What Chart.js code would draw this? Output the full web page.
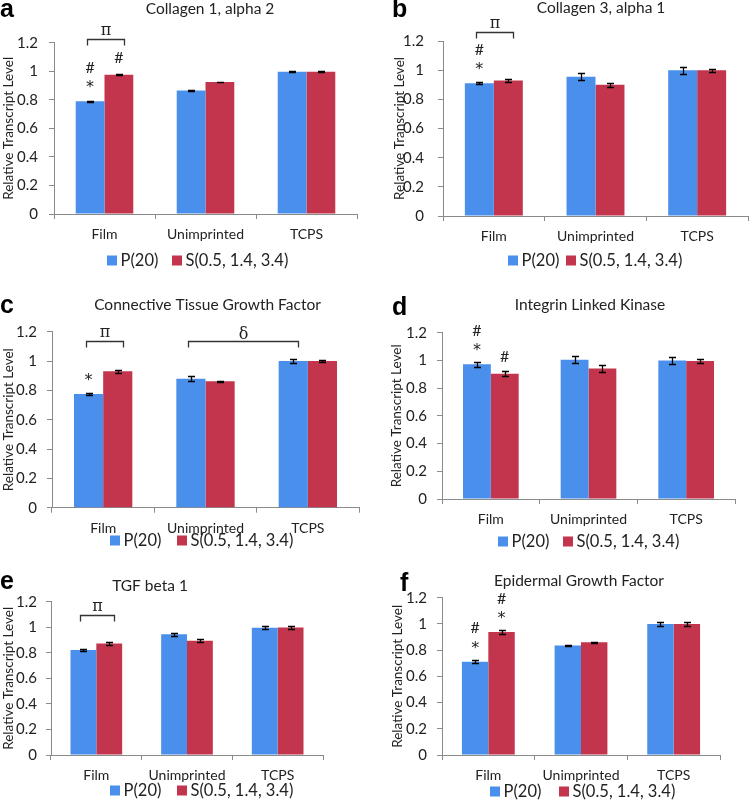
<!DOCTYPE html>
<html><head><meta charset="utf-8">
<script src="https://cdn.jsdelivr.net/npm/chart.js@4.4.1/dist/chart.umd.min.js"></script>
<style>
html,body{margin:0;padding:0;background:#fff;}
#wrap{position:relative;width:750px;height:806px;overflow:hidden;background:#fff}
canvas{position:absolute}
</style></head><body><div id="wrap"></div>
<script>
// ---------- data ----------
const categories = ['Film', 'Unimprinted', 'TCPS'];
const seriesNames = ['P(20)', 'S(0.5, 1.4, 3.4)'];
const yTicks = [0, 0.2, 0.4, 0.6, 0.8, 1, 1.2];
const yTickLabels = ['0', '0.2', '0.4', '0.6', '0.8', '1', '1.2'];
const panelLetters = ['a', 'b', 'c', 'd', 'e', 'f'];
const panelTitles = ['Collagen 1, alpha 2', 'Collagen 3, alpha 1', 'Connective Tissue Growth Factor',
  'Integrin Linked Kinase', 'TGF beta 1', 'Epidermal Growth Factor'];
const yAxisTitle = 'Relative Transcript Level';

const col1P = [0.79, 0.865, 0.997];
const col1S = [0.975, 0.925, 0.997];
const col1PErr = [0.004, 0.003, 0.003];
const col1SErr = [0.004, 0.003, 0.003];

const col3P = [0.91, 0.955, 1.0];
const col3S = [0.93, 0.90, 1.0];
const col3PErr = [0.006, 0.025, 0.025];
const col3SErr = [0.012, 0.015, 0.01];

const ctgfP = [0.775, 0.88, 1.0];
const ctgfS = [0.93, 0.862, 1.0];
const ctgfPErr = [0.007, 0.018, 0.015];
const ctgfSErr = [0.01, 0.004, 0.006];

const ilkP = [0.972, 1.005, 1.0];
const ilkS = [0.904, 0.942, 0.996];
const ilkPErr = [0.02, 0.025, 0.025];
const ilkSErr = [0.02, 0.025, 0.012];

const tgfP = [0.822, 0.945, 0.997];
const tgfS = [0.872, 0.895, 0.998];
const tgfPErr = [0.01, 0.012, 0.012];
const tgfSErr = [0.01, 0.013, 0.012];

const egfP = [0.712, 0.835, 1.0];
const egfS = [0.938, 0.86, 1.0];
const egfPErr = [0.01, 0.007, 0.015];
const egfSErr = [0.015, 0.005, 0.015];

// significance symbols (stacked upward above a bar: cat, dataset)
const col1Marks = [{cat: 0, ds: 0, syms: ['*', '#']}, {cat: 0, ds: 1, syms: ['#']}];
const col3Marks = [{cat: 0, ds: 0, syms: ['*', '#']}];
const ctgfMarks = [{cat: 0, ds: 0, syms: ['*']}];
const ilkMarks = [{cat: 0, ds: 0, syms: ['*', '#']}, {cat: 0, ds: 1, syms: ['#']}];
const tgfMarks = [];
const egfMarks = [{cat: 0, ds: 0, syms: ['*', '#']}, {cat: 0, ds: 1, syms: ['*', '#']}];

// comparison brackets (from bar [cat, ds] to bar [cat, ds], at level y)
const col1Brackets = [{from: [0, 0], to: [0, 1], y: 1.226, t: 'π'}];
const col3Brackets = [{from: [0, 0], to: [0, 1], y: 1.262, t: 'π'}];
const ctgfBrackets = [{from: [0, 0], to: [0, 1], y: 1.138, t: 'π'}, {from: [1, 0], to: [2, 0], y: 1.138, t: 'δ'}];
const ilkBrackets = [];
const tgfBrackets = [{from: [0, 0], to: [0, 1], y: 1.095, t: 'π'}];
const egfBrackets = [];

// ---------- style / layout ----------
const BLUE = '#4A8FEC';
const RED = '#C3354C';
const AXIS = '#8A8A8A';
const TXT = '#222';
const FONT = 'Lato';

const layouts = [
  {box: {x: 0, y: 0, w: 375, h: 275}, plot: {l: 54, r: 357, t: 42.7, b: 214}, yTitleX: 9, tickPad: 11,
   title: {x: 210, y: 14}, letter: {x: 0, y: 17}, legend: {x: [107, 172], y: 266}},
  {box: {x: 375, y: 0, w: 375, h: 275}, plot: {l: 443, r: 748, t: 41, b: 216}, yTitleX: 400, tickPad: 14,
   title: {x: 601, y: 13}, letter: {x: 392, y: 16.5}, legend: {x: [508, 566], y: 266}},
  {box: {x: 0, y: 275, w: 375, h: 277}, plot: {l: 52, r: 359, t: 331.7, b: 507.7}, yTitleX: 8.5, tickPad: 10,
   title: {x: 207.5, y: 310}, letter: {x: 0, y: 313}, legend: {x: [110, 177], y: 546}},
  {box: {x: 375, y: 275, w: 375, h: 277}, plot: {l: 442, r: 735, t: 332.7, b: 499}, yTitleX: 397, tickPad: 10,
   title: {x: 590, y: 310}, letter: {x: 392, y: 315}, legend: {x: [498, 563], y: 547}},
  {box: {x: 0, y: 552, w: 375, h: 254}, plot: {l: 51, r: 323, t: 601.7, b: 755}, yTitleX: 8.5, tickPad: 9,
   title: {x: 150, y: 591}, letter: {x: 0, y: 589}, legend: {x: [110, 177], y: 796}},
  {box: {x: 375, y: 552, w: 375, h: 254}, plot: {l: 442, r: 720, t: 597.7, b: 755}, yTitleX: 398, tickPad: 10,
   title: {x: 579, y: 586}, letter: {x: 400, y: 591}, legend: {x: [490, 559], y: 797}}
];

const panelData = [
  {P: col1P, S: col1S, PE: col1PErr, SE: col1SErr, marks: col1Marks, brackets: col1Brackets},
  {P: col3P, S: col3S, PE: col3PErr, SE: col3SErr, marks: col3Marks, brackets: col3Brackets},
  {P: ctgfP, S: ctgfS, PE: ctgfPErr, SE: ctgfSErr, marks: ctgfMarks, brackets: ctgfBrackets},
  {P: ilkP, S: ilkS, PE: ilkPErr, SE: ilkSErr, marks: ilkMarks, brackets: ilkBrackets},
  {P: tgfP, S: tgfS, PE: tgfPErr, SE: tgfSErr, marks: tgfMarks, brackets: tgfBrackets},
  {P: egfP, S: egfS, PE: egfPErr, SE: egfSErr, marks: egfMarks, brackets: egfBrackets}
];

function centeredText(ctx, t, x, y) {
  ctx.textAlign = 'center';
  ctx.textBaseline = 'alphabetic';
  const m = ctx.measureText(t);
  ctx.fillText(t, x, y + (m.actualBoundingBoxAscent - m.actualBoundingBoxDescent) / 2);
}

function decor(i) {
  const L = layouts[i], D = panelData[i];
  const ox = L.box.x, oy = L.box.y;
  return {
    id: 'decor' + i,
    afterDatasetsDraw(chart) {
      const ctx = chart.ctx, ys = chart.scales.y;
      ctx.save();
      // error bars
      ctx.strokeStyle = '#000';
      ctx.lineWidth = 1.3;
      chart.data.datasets.forEach((ds, di) => {
        chart.getDatasetMeta(di).data.forEach((bar, ci) => {
          const v = ds.data[ci], e = ds.err[ci];
          const y1 = Math.round(ys.getPixelForValue(v + e)) + 0.5;
          const y2 = Math.round(ys.getPixelForValue(v - e)) + 0.5;
          const x = Math.round(bar.x) + 0.5;
          ctx.beginPath();
          ctx.moveTo(x, y1); ctx.lineTo(x, y2);
          ctx.moveTo(x - 3.5, y1); ctx.lineTo(x + 3.5, y1);
          ctx.moveTo(x - 3.5, y2); ctx.lineTo(x + 3.5, y2);
          ctx.stroke();
        });
      });
      // significance marks
      ctx.fillStyle = TXT;
      D.marks.forEach(m => {
        const bar = chart.getDatasetMeta(m.ds).data[m.cat];
        m.syms.forEach((s, k) => {
          ctx.font = s === '*' ? '16px "DejaVu Sans"' : '16px ' + FONT;
          const cy = bar.y - 17 - 17 * k;
          centeredText(ctx, s, bar.x, cy);
        });
      });
      // brackets
      ctx.strokeStyle = '#333';
      ctx.lineWidth = 1.3;
      D.brackets.forEach(b => {
        const b1 = chart.getDatasetMeta(b.from[1]).data[b.from[0]];
        const b2 = chart.getDatasetMeta(b.to[1]).data[b.to[0]];
        const x1 = Math.round(b1.x - 3) + 0.5, x2 = Math.round(b2.x + 5) + 0.5;
        const y = Math.round(ys.getPixelForValue(b.y)) + 0.5;
        ctx.beginPath();
        ctx.moveTo(x1, y + 6); ctx.lineTo(x1, y); ctx.lineTo(x2, y); ctx.lineTo(x2, y + 6);
        ctx.stroke();
        ctx.font = '16px "DejaVu Serif"';
        centeredText(ctx, b.t, (x1 + x2) / 2, y - 9);
      });
      ctx.restore();
    },
    afterDraw(chart) {
      const ctx = chart.ctx;
      ctx.save();
      ctx.fillStyle = '#222';
      ctx.textBaseline = 'alphabetic';
      // title
      ctx.font = '15.5px ' + FONT;
      ctx.textAlign = 'center';
      ctx.fillText(panelTitles[i], L.title.x - ox, L.title.y - oy);
      // panel letter
      ctx.fillStyle = '#000';
      ctx.font = 'bold 25px "Liberation Sans"';
      ctx.textAlign = 'left';
      ctx.fillText(panelLetters[i], L.letter.x - ox, L.letter.y - oy);
      // legend
      ctx.font = '16.5px ' + FONT;
      chart.data.datasets.forEach((ds, di) => {
        const sx = L.legend.x[di] - ox, by = L.legend.y - oy;
        ctx.fillStyle = ds.backgroundColor;
        ctx.fillRect(sx, by - 10.5, 10, 10);
        ctx.fillStyle = '#222';
        ctx.fillText(ds.label, sx + 13.5, by);
      });
      ctx.restore();
    }
  };
}

const wrap = document.getElementById('wrap');
layouts.forEach((L, i) => {
  const D = panelData[i];
  const cv = document.createElement('canvas');
  cv.width = L.box.w; cv.height = L.box.h;
  cv.style.left = L.box.x + 'px'; cv.style.top = L.box.y + 'px';
  cv.style.width = L.box.w + 'px'; cv.style.height = L.box.h + 'px';
  wrap.appendChild(cv);
  const titleSize = 13.5, lh = titleSize * 1.2;
  const padLeft = Math.max(0, L.yTitleX - L.box.x - lh / 2);
  const yW = L.plot.l - L.box.x - padLeft;
  const xH = 30;
  const padTop = L.plot.t - L.box.y;
  const padRight = L.box.x + L.box.w - L.plot.r;
  const padBottom = L.box.y + L.box.h - L.plot.b - xH;
  new Chart(cv, {
    type: 'bar',
    data: {
      labels: categories,
      datasets: [
        {label: seriesNames[0], data: D.P, err: D.PE, backgroundColor: BLUE, borderWidth: 0},
        {label: seriesNames[1], data: D.S, err: D.SE, backgroundColor: RED, borderWidth: 0}
      ]
    },
    options: {
      responsive: false, animation: false, devicePixelRatio: 1,
      layout: {padding: {left: padLeft, right: padRight, top: padTop, bottom: padBottom}},
      datasets: {bar: {categoryPercentage: 0.57, barPercentage: 1}},
      plugins: {legend: {display: false}, title: {display: false}, tooltip: {enabled: false}},
      scales: {
        x: {
          grid: {drawOnChartArea: false, drawTicks: true, tickLength: 5, color: AXIS, offset: true},
          border: {color: AXIS, width: 1},
          ticks: {color: TXT, font: {family: FONT, size: 14}, padding: 7, maxRotation: 0},
          afterFit: s => { s.height = xH; }
        },
        y: {
          min: 0, max: 1.2,
          afterBuildTicks: s => { s.ticks = yTicks.map(v => ({value: v})); },
          grid: {drawOnChartArea: false, drawTicks: true, tickLength: 5, color: AXIS},
          border: {color: AXIS, width: 1},
          ticks: {color: TXT, font: {family: FONT, size: 15}, padding: L.tickPad,
                  callback: (v, idx) => yTickLabels[idx]},
          title: {display: true, text: yAxisTitle, color: TXT, font: {family: FONT, size: titleSize}, padding: 0},
          afterFit: s => { s.width = yW; }
        }
      }
    },
    plugins: [decor(i)]
  });
});
</script>
</body></html>
